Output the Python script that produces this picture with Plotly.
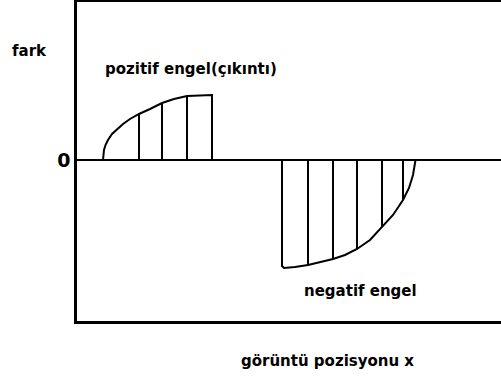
import plotly.graph_objects as go

# Horizontal image position and height difference (arbitrary units)
pos_x = [26, 26.3, 27, 28.5, 31, 35, 40, 46, 53, 62, 73, 85, 97, 110, 135, 135]
pos_y = [0, 5, 10, 15, 20, 26, 31, 36, 41, 46, 51, 57, 61, 64, 65, 0]
pos_hatch_x = [62, 85, 110]
pos_hatch_y = [46, 57, 64]

neg_x = [205, 205, 207, 218, 231, 243, 256, 268, 280, 293, 305, 316, 326, 332, 336, 338, 338.5]
neg_y = [0, -106, -108, -107, -105, -102, -99, -95, -89, -80, -67, -55, -40, -28, -15, -5, 0]
neg_hatch_x = [231, 256, 280, 305, 326]
neg_hatch_y = [-105, -99, -89, -67, -40]

x_range = [0, 424]
y_range = [-161, 158]

# labels inside the plotting area (data coordinates)
inner_labels = {
    "pozitif engel(çıkıntı)": (114, 91),
    "negatif engel": (283, -131),
}
# axis captions outside the plotting area (paper coordinates)
outer_labels = {
    "fark": (-0.111, 0.846),
    "görüntü pozisyonu x": (0.590, -0.125),
}


def hatch(xs, ys):
    hx, hy = [], []
    for x, y in zip(xs, ys):
        hx += [x, x, None]
        hy += [0, y, None]
    return hx, hy


line = dict(color="black", width=2)
fig = go.Figure()
fig.add_trace(go.Scatter(x=pos_x, y=pos_y, mode="lines", line=line, hoverinfo="skip"))
fig.add_trace(go.Scatter(x=neg_x, y=neg_y, mode="lines", line=line, hoverinfo="skip"))
for xs, ys in ((pos_hatch_x, pos_hatch_y), (neg_hatch_x, neg_hatch_y)):
    hx, hy = hatch(xs, ys)
    fig.add_trace(go.Scatter(x=hx, y=hy, mode="lines", line=line, hoverinfo="skip"))

font = dict(family="DejaVu Sans", size=15, color="black", weight="bold")
for text, (x, y) in inner_labels.items():
    fig.add_annotation(x=x, y=y, xref="x", yref="y", text=text, showarrow=False,
                       font=font, xanchor="center", yanchor="middle")
for text, (x, y) in outer_labels.items():
    fig.add_annotation(x=x, y=y, xref="paper", yref="paper", text=text, showarrow=False,
                       font=font, xanchor="center", yanchor="middle")

fig.update_layout(
    width=501, height=378,
    margin=dict(l=77, r=0, t=2, b=57),
    paper_bgcolor="white", plot_bgcolor="white",
    showlegend=False,
    xaxis=dict(range=x_range, showline=True, linecolor="black", linewidth=2.5,
               mirror=True, showgrid=False, zeroline=False, showticklabels=False,
               ticks=""),
    yaxis=dict(range=y_range, showline=True, linecolor="black", linewidth=2.5,
               showgrid=False, zeroline=True, zerolinecolor="black", zerolinewidth=2,
               tickvals=[0], ticktext=["0"], ticks="",
               tickfont=dict(family="DejaVu Sans", size=19, color="black", weight="bold")),
)

fig.write_html("out.html")
